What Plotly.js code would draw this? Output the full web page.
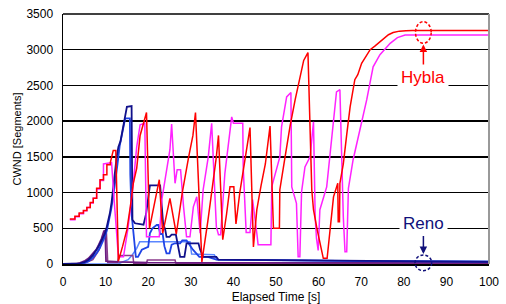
<!DOCTYPE html>
<html>
<head>
<meta charset="utf-8">
<script src="https://cdn.plot.ly/plotly-3.0.1.min.js"></script>
<style>
html,body{margin:0;padding:0;background:#fff;}
#chart{width:506px;height:304px;}
</style>
</head>
<body>
<div id="chart"></div>
<script>
// ---- data ----
const X_TICKS = [0,10,20,30,40,50,60,70,80,90,100];
const Y_TICKS = [0,500,1000,1500,2000,2500,3000,3500];

const HYBLA1_X = [1.6,2.8,2.8,3.8,3.8,4.8,4.8,5.6,5.6,6.4,6.4,7.1,7.1,7.9,7.9,8.7,8.7,9.5,9.5,10.3,10.3,11.1,11.1,11.8,12.4,13.0,14.0,15.0,15.8,16.5,17.3,18.1,18.9,19.6,20.3,21.5,22.6,23.4,24.3,25.1,26.6,28.0,29.5,30.5,31.1,32.6,34.0,35.3,36.0,36.5,37.5,38.4,39.2,40.1,40.6,41.5,42.5,43.2,43.9,44.7,45.5,46.5,47.5,48.6,49.4,50.8,50.9,52.0,53.3,54.5,55.6,56.5,57.5,58.4,58.8,59.6,61.1,62.0,63.5,64.5,64.6,64.9,65.0,65.8,66.6,67.4,68.5,69.2,70.1,71.0,72.1,73.2,74.4,75.4,76.4,77.5,79.0,80.5,82.0,100];
const HYBLA1_Y = [630,630,670,670,715,715,750,750,790,790,860,860,920,920,1060,1060,1180,1180,1250,1250,1390,1390,1420,1590,1590,40,250,480,800,1130,1340,1800,1970,2120,500,830,1180,430,700,920,420,1000,1500,1800,2120,30,600,1180,1500,1800,340,700,1080,1080,560,1000,1400,1700,1910,240,760,1100,1400,1930,500,500,1040,1450,1930,2300,2600,2850,2960,1040,760,500,80,80,940,1130,590,590,1130,1400,1810,2200,2580,2650,2810,2900,3000,3050,3110,3150,3210,3240,3260,3265,3270,3270];

const HYBLA2_X = [1.6,2.8,2.8,3.8,3.8,4.8,4.8,5.6,5.6,6.4,6.4,7.1,7.1,7.9,7.9,8.7,8.7,9.5,9.5,11.4,12.0,13.0,14.2,15.3,16.5,17.3,18.1,19.2,19.6,22.6,23.2,24.3,25.1,25.5,26.0,26.3,26.8,27.6,28.3,29.0,29.8,30.6,31.4,32.2,32.9,34.1,34.9,35.7,36.0,36.5,37.0,38.0,39.6,40.0,42.2,42.3,43.0,43.9,44.5,45.5,45.8,48.8,49.0,50.9,51.3,52.5,53.5,53.7,54.8,55.2,55.6,56.0,56.8,58.0,58.8,59.2,59.5,59.9,60.3,61.9,63.5,64.2,65.0,65.4,65.8,66.2,66.6,67.0,68.1,69.7,71.3,72.8,74.4,76.8,78.5,80.3,100];
const HYBLA2_Y = [620,620,660,660,705,705,745,745,790,790,855,855,920,920,1050,1050,1170,1170,1400,1420,900,100,100,520,1130,1640,1950,1970,380,380,900,1300,1600,1960,1500,1130,1320,1320,800,380,380,800,940,430,1040,1500,1970,1040,520,410,410,1270,2060,1970,1970,1360,440,440,900,430,270,270,1080,1500,1920,2340,2400,1080,850,100,100,1010,1360,1500,1990,660,360,190,760,1080,2020,2410,2440,1410,660,170,170,1060,1460,1880,2300,2760,2930,3090,3170,3205,3205];

const RENO1_X = [0,3,4,5,6,7,7.6,8.2,8.7,9.3,9.8,10.2,10.6,11.0,11.4,11.8,12.2,12.6,13.0,13.5,14.0,14.6,15.0,16.1,16.2,16.3,16.9,18.9,19.5,20.0,20.4,22.8,23.2,23.5,24.0,24.3,25.0,25.5,26.5,27.0,27.5,28.5,29.0,31.8,32.2,32.9,36.0,36.5,58,60,70,100];
const RENO1_Y = [0,0,10,25,60,120,170,230,290,350,420,500,600,710,860,1080,1300,1500,1640,1720,1880,2090,2200,2210,1400,620,570,550,700,950,1100,1100,800,570,480,380,380,410,410,250,100,100,290,290,200,100,100,60,50,45,40,30];

const RENO2_X = [0,4,5,6,7,8,8.7,9.3,9.8,10.3,10.8,11.3,11.8,12.3,12.8,13.3,13.8,14.3,14.6,15.7,15.8,16.1,16.5,16.9,17.1,17.6,18.5,20.0,20.4,21.0,22.0,22.4,22.8,23.4,23.8,24.3,25.0,25.5,26.3,27.5,28.0,29.0,29.8,30.5,32.0,34.0,36.0,50,70,100];
const RENO2_Y = [0,0,15,40,90,160,230,300,380,470,600,760,950,1150,1400,1650,1800,1950,2040,2040,1250,700,430,240,100,100,200,240,430,500,546,546,420,420,250,150,150,270,290,290,330,330,250,200,100,100,60,50,40,35];

const RENO3_X = [0,13,14,15.3,16.3,17.3,18.0,29.8,30.2,35.5,36.2,60,100];
const RENO3_Y = [0,0,30,60,130,220,310,310,140,130,60,45,30];

const RENO4_X = [0,3,4,5,6,7,7.8,8.4,9.0,9.6,9.9,10.1,13,20,40,100];
const RENO4_Y = [0,0,15,40,80,140,200,270,350,460,470,40,30,20,20,15];

const RENO5_X = [0,5,7,8.5,9.6,10.2,10.5,12.8,13.1,16.4,16.6,19.6,19.8,26.3,26.5,100];
const RENO5_Y = [0,10,60,200,430,430,20,20,120,120,10,10,55,55,10,10];

// ---- chart ----
function tr(x, y, color, width) {
  return {x: x, y: y, type: 'scatter', mode: 'lines', hoverinfo: 'skip',
          line: {color: color, width: width}, showlegend: false};
}
const traces = [
  tr(RENO3_X, RENO3_Y, '#5a86ff', 1.5),
  tr(RENO5_X, RENO5_Y, '#8b3a8b', 1.5),
  tr(RENO4_X, RENO4_Y, '#6a1a80', 1.8),
  tr(RENO2_X, RENO2_Y, '#1f44e6', 1.8),
  tr(RENO1_X, RENO1_Y, '#10108a', 1.8),
  tr(HYBLA2_X, HYBLA2_Y, '#ff22ff', 1.5),
  tr(HYBLA1_X, HYBLA1_Y, '#ff0000', 1.5)
];

const FONT = 'Liberation Sans, Arial, Helvetica, sans-serif';

const layout = {
  width: 506, height: 304,
  margin: {l: 63, r: 17, t: 14, b: 40},
  paper_bgcolor: '#ffffff', plot_bgcolor: '#ffffff',
  font: {family: FONT, size: 12, color: '#000'},
  xaxis: {
    range: [0, 100], tickvals: X_TICKS, ticktext: X_TICKS.map(String),
    showgrid: false, zeroline: false, showline: true, linecolor: '#000', linewidth: 1.5,
    ticks: '', ticklabelstandoff: 6, tickfont: {size: 12},
    title: {text: 'Elapsed Time [s]', font: {size: 12}, standoff: 4}
  },
  yaxis: {
    range: [0, 3500], tickvals: Y_TICKS, ticktext: Y_TICKS.map(String),
    showgrid: true, gridcolor: '#000', gridwidth: 1.5,
    zeroline: false, showline: true, linecolor: '#000', linewidth: 1.5,
    ticks: '', ticklabelstandoff: 6, tickfont: {size: 12},
    title: {text: 'CWND [Segments]', font: {size: 11}, standoff: 2}
  },
  shapes: [
    {type: 'line', xref: 'paper', yref: 'paper', x0: 0, x1: 1, y0: 1, y1: 1, line: {color: '#000', width: 1.5}},
    {type: 'line', xref: 'paper', yref: 'paper', x0: 1, x1: 1, y0: 0, y1: 1, line: {color: '#999', width: 2}},
    {type: 'circle', xref: 'paper', yref: 'paper', x0: 0.8275, x1: 0.8643, y0: 0.8828, y1: 0.9692,
     line: {color: '#ff0000', width: 1.5, dash: '3px,2px'}},
    {type: 'circle', xref: 'paper', yref: 'paper', x0: 0.8263, x1: 0.8655, y0: -0.0268, y1: 0.036,
     line: {color: '#10107a', width: 1.5, dash: '3px,2px'}}
  ],
  annotations: [
    {text: 'Hybla', x: 84.6, y: 3073, xref: 'x', yref: 'y', ax: 0, ay: 33,
     showarrow: true, arrowhead: 2, arrowsize: 1, arrowwidth: 1.5, arrowcolor: '#ff0000',
     font: {size: 17, color: '#ff0000', family: FONT}, bgcolor: '#ffffff', borderpad: 3},
    {text: 'Reno', x: 84.6, y: 140, xref: 'x', yref: 'y', ax: 0, ay: -31,
     showarrow: true, arrowhead: 2, arrowsize: 1, arrowwidth: 1.5, arrowcolor: '#10107a',
     font: {size: 17, color: '#10107a', family: FONT}, bgcolor: '#ffffff', borderpad: 3}
  ]
};

Plotly.newPlot('chart', traces, layout, {staticPlot: true, displayModeBar: false});
</script>
</body>
</html>
